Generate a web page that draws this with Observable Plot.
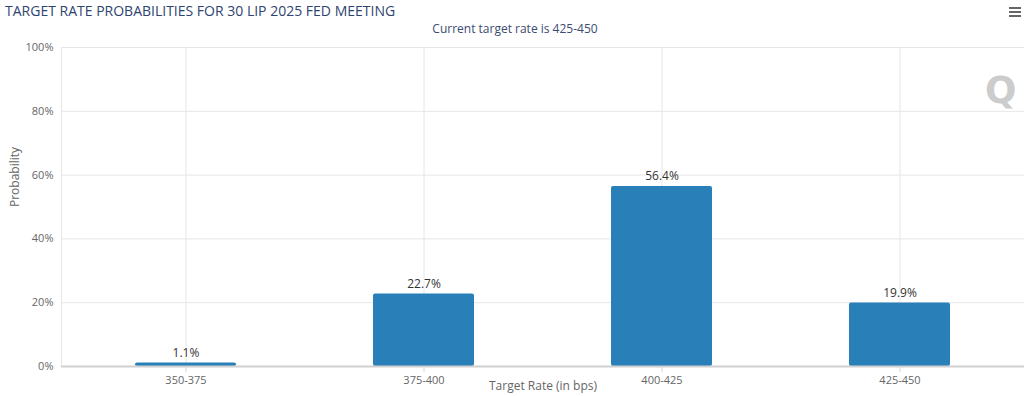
<!DOCTYPE html>
<html>
<head>
<meta charset="utf-8">
<script src="https://cdn.jsdelivr.net/npm/d3@7"></script>
<script src="https://cdn.jsdelivr.net/npm/@observablehq/plot@0.6"></script>
<style>
  html, body { margin: 0; padding: 0; background: #fff; width: 1024px; height: 396px; overflow: hidden; font-family: "Open Sans", "DejaVu Sans", sans-serif; }
  #wrap { position: relative; width: 1024px; height: 396px; }
  #title { position: absolute; left: 5px; top: 1px; font-size: 14px; color: #2f4370; white-space: nowrap; letter-spacing: 0; }
  #subtitle { position: absolute; left: 0; width: 1030px; top: 20px; text-align: center; font-size: 12px; color: #3b4b72; white-space: nowrap; }
  #menu { position: absolute; left: 1009px; top: 7px; width: 12px; height: 10px; }
  #menu div { height: 2px; background: #666; margin-bottom: 2px; }
  #chart { position: absolute; left: 0; top: 0; }
</style>
</head>
<body>
<div id="wrap">
  <div id="chart"></div>
  <div id="title">TARGET RATE PROBABILITIES FOR 30 LIP 2025 FED MEETING</div>
  <div id="subtitle">Current target rate is 425-450</div>
  <div id="menu"><div></div><div></div><div></div></div>
</div>
<script>
const categories = ["350-375", "375-400", "400-425", "425-450"];
const probabilities = [1.1, 22.7, 56.4, 19.9];
const yTicks = [0, 20, 40, 60, 80, 100];
const xAxisTitle = "Target Rate (in bps)";
const yAxisTitle = "Probability";

const data = categories.map((c, i) => ({rate: c, p: probabilities[i]}));

const chart = Plot.plot({
  width: 1024,
  height: 396,
  marginTop: 47,
  marginBottom: 30,
  marginLeft: 61,
  marginRight: 0,
  style: {fontFamily: "'Open Sans', 'DejaVu Sans', sans-serif", background: "transparent"},
  x: {domain: categories, range: [67, 1019], paddingInner: 0.575, paddingOuter: 0.2875, align: 0.5},
  y: {domain: [0, 100], range: [366, 47]},
  marks: [
    Plot.ruleY(yTicks.filter(d => d > 0), {stroke: "#e6e6e6", strokeWidth: 1}),
    Plot.ruleX(categories, {x: d => d, stroke: "#e6e6e6", strokeWidth: 1}),
    Plot.frame({anchor: "left", stroke: "#e6e6e6"}),
    Plot.barY(data, {x: "rate", y: "p", fill: "#2980b9", rx: 2}),
    Plot.ruleY([0], {stroke: "#d0d0d0", strokeWidth: 2}),
    Plot.axisY({ticks: yTicks, tickFormat: d => d + "%", tickSize: 0, tickPadding: 8, fill: "#666", fontSize: 11, label: null}),
    Plot.axisX({tickSize: 6, tickPadding: 4, stroke: "#ccd6eb", fill: "#666", fontSize: 11, label: null}),
    Plot.text(data, {x: "rate", y: "p", text: d => d.p.toFixed(1) + "%", dy: -10, fill: "#333", stroke: "white", strokeWidth: 2, paintOrder: "stroke", fontSize: 12}),
    Plot.text([yAxisTitle], {frameAnchor: "left", dx: -46, rotate: -90, fill: "#666", fontSize: 12, text: d => d}),
    Plot.text([xAxisTitle], {frameAnchor: "bottom", dy: 23, fill: "#666", fontSize: 12, text: d => d}),
    Plot.text(["Q"], {frameAnchor: "top-right", dx: -8, dy: 29, fill: "#cccccc", fontSize: 37, fontWeight: "bold", fontFamily: "DejaVu Sans", text: d => d})
  ]
});
document.getElementById("chart").appendChild(chart);
</script>
</body>
</html>
